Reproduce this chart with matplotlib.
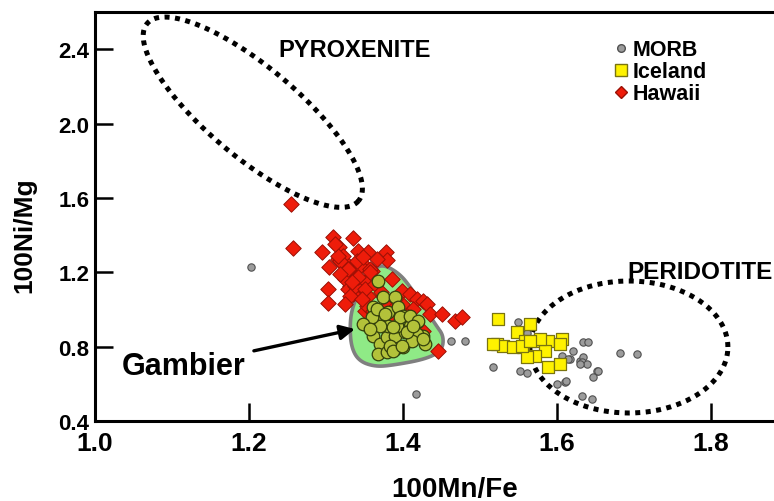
"""
Ni/Mg vs Mn/Fe plot: MORB, Iceland, Hawaii and Gambier olivines
"""

import numpy as np
import matplotlib
matplotlib.use('Agg')
import matplotlib.pyplot as plt
from matplotlib.patches import Polygon
from matplotlib.lines import Line2D

# values
morb_x = [1.203, 1.417, 1.462, 1.481, 1.517, 1.550, 1.561, 1.552, 1.561, 1.606,
          1.621, 1.617, 1.630, 1.634, 1.640, 1.634, 1.632, 1.639, 1.652, 1.647,
          1.614, 1.630, 1.682, 1.704, 1.600, 1.610, 1.612, 1.632, 1.645, 1.653]
morb_y = [1.228, 0.545, 0.830, 0.830, 0.690, 0.935, 0.873, 0.669, 0.658, 0.752,
          0.776, 0.733, 0.723, 0.825, 0.825, 0.744, 0.717, 0.706, 0.669, 0.637,
          0.733, 0.706, 0.766, 0.760, 0.599, 0.610, 0.615, 0.534, 0.518, 0.669]

iceland_x = [1.523, 1.565, 1.548, 1.522, 1.530, 1.543, 1.556, 1.558, 1.575, 1.588,
             1.606, 1.604, 1.584, 1.571, 1.561, 1.588, 1.604, 1.517, 1.578, 1.555, 1.565]
iceland_y = [0.948, 0.922, 0.878, 0.814, 0.803, 0.798, 0.798, 0.830, 0.830, 0.830,
             0.841, 0.814, 0.776, 0.749, 0.744, 0.690, 0.706, 0.814, 0.841, 0.803, 0.830]

hawaii_x = [1.255, 1.257, 1.309, 1.335, 1.295, 1.317, 1.342, 1.355, 1.378, 1.379,
            1.304, 1.316, 1.327, 1.331, 1.351, 1.366, 1.360, 1.303, 1.303, 1.327,
            1.331, 1.340, 1.344, 1.351, 1.355, 1.335, 1.386, 1.399, 1.409, 1.418,
            1.426, 1.431, 1.435, 1.451, 1.468, 1.477, 1.445, 1.426, 1.413, 1.399,
            1.379, 1.366, 1.351, 1.377, 1.392, 1.405, 1.353, 1.374, 1.322, 1.325,
            1.329, 1.344, 1.357, 1.387, 1.381, 1.361, 1.318, 1.329, 1.338, 1.351,
            1.331, 1.316, 1.342, 1.357, 1.318, 1.334, 1.347, 1.325, 1.364, 1.371,
            1.390, 1.340, 1.348, 1.312]
hawaii_y = [1.567, 1.330, 1.389, 1.384, 1.309, 1.335, 1.314, 1.309, 1.309, 1.266,
            1.228, 1.271, 1.244, 1.217, 1.233, 1.271, 1.206, 1.110, 1.034, 1.163,
            1.126, 1.174, 1.120, 1.147, 1.072, 1.083, 1.163, 1.099, 1.083, 1.056,
            1.045, 1.029, 0.975, 0.975, 0.938, 0.959, 0.776, 0.884, 1.002, 1.029,
            1.018, 0.986, 0.991, 0.965, 0.986, 0.965, 1.018, 1.072, 1.287, 1.163,
            1.110, 1.233, 1.217, 1.002, 0.959, 0.991, 1.260, 1.217, 1.126, 1.110,
            1.072, 1.287, 1.174, 1.201, 1.190, 1.147, 1.056, 1.029, 1.137, 1.094,
            1.056, 1.260, 1.282, 1.352]

gambier_x = [1.368, 1.374, 1.390, 1.361, 1.370, 1.381, 1.394, 1.400, 1.409, 1.418,
             1.426, 1.429, 1.355, 1.361, 1.370, 1.368, 1.379, 1.390, 1.400, 1.379,
             1.390, 1.403, 1.392, 1.381, 1.370, 1.360, 1.348, 1.418, 1.366, 1.377,
             1.396, 1.409, 1.419, 1.387, 1.412, 1.426, 1.383, 1.405, 1.357, 1.387,
             1.399, 1.413]
gambier_y = [1.153, 1.067, 1.067, 1.013, 0.975, 0.986, 1.013, 0.965, 0.911, 0.932,
             0.857, 0.814, 0.911, 0.857, 0.814, 0.760, 0.771, 0.787, 0.798, 0.852,
             0.857, 0.878, 0.911, 0.911, 0.911, 0.959, 0.922, 0.868, 1.002, 0.975,
             0.959, 0.965, 0.938, 0.905, 0.830, 0.841, 0.803, 0.878, 0.895, 0.776,
             0.803, 0.911]

# outline of the Gambier field
field_x = [1.373, 1.395, 1.410, 1.443, 1.453, 1.451, 1.430, 1.387, 1.364, 1.343,
           1.333, 1.331, 1.334, 1.346, 1.359]
field_y = [1.245, 1.195, 1.120, 0.915, 0.857, 0.780, 0.733, 0.700, 0.692, 0.722,
           0.795, 0.911, 1.010, 1.120, 1.205]

# mantle source fields: centre and the two half-axis vectors (data units)
pyx_center = (1.205, 2.061)
pyx_axis1 = (0.1373, -0.477)
pyx_axis2 = (-0.0376, -0.1855)
per_center = (1.6935, 0.798)
per_axis1 = (0.1286, 0.0)
per_axis2 = (0.0, 0.355)

x_ticks = [1.0, 1.2, 1.4, 1.6, 1.8]
y_ticks = [0.4, 0.8, 1.2, 1.6, 2.0, 2.4]


def chaikin(px, py, n=3):
    pts = np.column_stack([px, py])
    for _ in range(n):
        nxt = np.roll(pts, -1, axis=0)
        q = 0.75 * pts + 0.25 * nxt
        r = 0.25 * pts + 0.75 * nxt
        pts = np.empty((2 * len(q), 2))
        pts[0::2] = q
        pts[1::2] = r
    return pts


def ellipse(center, a, b):
    t = np.linspace(0, 2 * np.pi, 300)
    ex = center[0] + a[0] * np.cos(t) + b[0] * np.sin(t)
    ey = center[1] + a[1] * np.cos(t) + b[1] * np.sin(t)
    return ex, ey


plt.rcParams['font.family'] = ['Liberation Sans', 'DejaVu Sans']
plt.rcParams['font.weight'] = 'bold'

fig = plt.figure(figsize=(7.74, 5.02), dpi=100)
ax = fig.add_axes([0.1227, 0.1594, 0.8773, 0.8147])
ax.set_xlim(1.0, 1.882)
ax.set_ylim(0.4, 2.6)

# dotted source fields
for c, a, b in [(pyx_center, pyx_axis1, pyx_axis2), (per_center, per_axis1, per_axis2)]:
    ex, ey = ellipse(c, a, b)
    ax.plot(ex, ey, color='black', lw=3.6, linestyle=(0, (1, 1.1)),
            dash_capstyle='butt', zorder=2)

# Gambier field
ax.add_patch(Polygon(chaikin(field_x, field_y), closed=True, facecolor='#8FEA86',
                     edgecolor='#7f7f7f', lw=2.6, joinstyle='round', zorder=3))

ax.scatter(morb_x, morb_y, s=28, marker='o', color='#9c9c9c', edgecolor='#505050',
           linewidths=0.8, zorder=4)
ax.scatter(iceland_x, iceland_y, s=82, marker='s', color='#FFF200', edgecolor='#7a7410',
           linewidths=0.9, zorder=5)
ax.scatter(hawaii_x, hawaii_y, s=62, marker='D', color='#EE1C0A', edgecolor='#9a1005',
           linewidths=0.7, zorder=5)
ax.scatter(gambier_x, gambier_y, s=82, marker='o', color='#B3C23A', edgecolor='#33400c',
           linewidths=0.9, zorder=6)

# labels
ax.text(1.238, 2.40, 'PYROXENITE', fontsize=17, fontweight='bold', va='center', ha='left')
ax.text(1.692, 1.206, 'PERIDOTITE', fontsize=17.5, fontweight='bold', va='center', ha='left')
ax.annotate('Gambier', xy=(1.3377, 0.8946), xytext=(1.035, 0.696),
            fontsize=22, fontweight='bold', va='center', ha='left',
            arrowprops=dict(arrowstyle='-|>', color='black', lw=2.4, mutation_scale=22,
                            shrinkA=4, shrinkB=0), zorder=7)

handles = [
    Line2D([], [], marker='o', ls='none', markersize=5.5, color='#9c9c9c', markeredgecolor='#505050'),
    Line2D([], [], marker='s', ls='none', markersize=8, color='#FFF200', markeredgecolor='#7a7410'),
    Line2D([], [], marker='D', ls='none', markersize=6.5, color='#EE1C0A', markeredgecolor='#9a1005'),
]
leg = ax.legend(handles, ['MORB', 'Iceland', 'Hawaii'], loc='upper left',
                bbox_to_anchor=(0.748, 0.96), frameon=False, borderpad=0,
                handlelength=0.7, handletextpad=0.2, labelspacing=0.05,
                prop={'size': 15.5, 'weight': 'bold'})

ax.set_xticks(x_ticks)
ax.set_yticks(y_ticks)
ax.set_xticklabels(['%.1f' % v for v in x_ticks], fontsize=19, fontweight='bold')
ax.set_yticklabels(['%.1f' % v for v in y_ticks], fontsize=16, fontweight='bold')
ax.tick_params(direction='in', length=13, width=1.8, color='black')
ax.tick_params(axis='x', pad=7)
ax.tick_params(axis='y', pad=4)

ax.set_xlabel('100Mn/Fe', fontsize=20, fontweight='bold')
ax.xaxis.set_label_coords(0.53, -0.135)
ax.set_ylabel('100Ni/Mg', fontsize=19, fontweight='bold')
ax.yaxis.set_label_coords(-0.087, 0.457)

for s in ['left', 'bottom', 'top']:
    ax.spines[s].set_linewidth(2.2)
ax.spines['right'].set_visible(False)

plt.savefig('out.png', dpi=100)
plt.close()
